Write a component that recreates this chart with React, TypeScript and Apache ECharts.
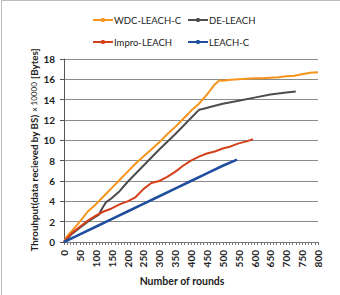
import React, { useEffect, useRef } from "react";
import * as echarts from "echarts";

const wdcRounds = [0, 10, 25, 50, 75, 100, 125, 150, 175, 200, 225, 250, 275, 300, 325, 350, 375, 400, 425, 450, 475, 490, 500, 525, 550, 575, 600, 625, 650, 675, 700, 725, 750, 775, 800];
const wdcValues = [0, 0.6, 1.1, 2.0, 3.0, 3.7, 4.5, 5.3, 6.1, 6.9, 7.7, 8.4, 9.1, 9.8, 10.6, 11.3, 12.1, 12.9, 13.6, 14.5, 15.5, 15.9, 15.85, 15.95, 16.0, 16.05, 16.1, 16.1, 16.15, 16.2, 16.3, 16.35, 16.5, 16.65, 16.7];

const deRounds = [0, 25, 50, 75, 100, 110, 120, 132, 150, 175, 200, 250, 300, 350, 400, 425, 440, 475, 500, 550, 600, 650, 700, 730];
const deValues = [0, 0.8, 1.4, 2.0, 2.5, 2.7, 3.3, 3.9, 4.3, 5.0, 5.9, 7.5, 9.1, 10.6, 12.2, 13.0, 13.1, 13.4, 13.6, 13.9, 14.2, 14.5, 14.7, 14.8];

const improRounds = [0, 25, 50, 75, 100, 125, 150, 175, 200, 225, 250, 275, 300, 325, 350, 375, 400, 425, 450, 475, 500, 525, 550, 575, 595];
const improValues = [0, 0.9, 1.5, 2.1, 2.6, 3.0, 3.3, 3.7, 4.0, 4.4, 5.2, 5.8, 6.0, 6.4, 6.9, 7.5, 8.0, 8.4, 8.7, 8.9, 9.2, 9.4, 9.7, 9.9, 10.1];

const leachRounds = [0, 50, 100, 150, 200, 250, 300, 350, 400, 450, 500, 545];
const leachValues = [0, 0.75, 1.5, 2.25, 3.0, 3.75, 4.5, 5.25, 6.0, 6.75, 7.5, 8.1];

const seriesNames = ["WDC-LEACH-C", "DE-LEACH", "Impro-LEACH", "LEACH-C"];
const seriesColors = ["#F7941D", "#4D4D4D", "#D4401A", "#1F4E9E"];

const FONT = "Lato, 'Liberation Sans', Arial, sans-serif";
const LEGEND_ICON = "path://M0,3.5 L20,3.5 L20,5.5 L0,5.5 Z M8.5,2.5 L11.5,2.5 L11.5,6.5 L8.5,6.5 Z M0,0 L0.01,0 L0.01,0.01 Z M0,9 L0.01,9 L0.01,9.01 Z";

function pairs(xs: number[], ys: number[]) {
  return xs.map((x, i) => [x, ys[i]]);
}

export default function App() {
  const ref = useRef<HTMLDivElement>(null);
  useEffect(() => {
    if (!ref.current) return;
    const chart = echarts.init(ref.current, undefined, { renderer: "svg" });
    const datasets = [
      pairs(wdcRounds, wdcValues),
      pairs(deRounds, deValues),
      pairs(improRounds, improValues),
      pairs(leachRounds, leachValues),
    ];
    const legendPos = [
      { left: 93, top: 15 },
      { left: 188, top: 15 },
      { left: 93, top: 37 },
      { left: 188, top: 37 },
    ];
    chart.setOption({
      animation: false,
      textStyle: { fontFamily: FONT },
      legend: seriesNames.map((n, i) => ({
        data: [{ name: n, icon: LEGEND_ICON }],
        left: legendPos[i].left,
        top: legendPos[i].top,
        padding: 0,
        itemWidth: 20,
        itemHeight: 9,
        itemGap: 2,
        textStyle: { fontSize: 9.5, color: "#222", fontFamily: FONT, padding: [0, 0, 0, -4] },
      })),
      grid: { left: 64, right: 22, top: 59, bottom: 53 },
      xAxis: {
        type: "value",
        min: 0,
        max: 800,
        interval: 50,
        axisLine: { lineStyle: { color: "#777", width: 1 } },
        axisTick: { show: true, length: 3, lineStyle: { color: "#777" } },
        minorTick: { show: true, splitNumber: 5, length: 3, lineStyle: { color: "#777" } },
        splitLine: { show: false },
        axisLabel: { rotate: 90, margin: 8, fontSize: 10, fontWeight: "bold", color: "#222", fontFamily: FONT },
      },
      yAxis: {
        type: "value",
        min: 0,
        max: 18,
        interval: 2,
        axisLine: { show: true, lineStyle: { color: "#555", width: 1 } },
        axisTick: { show: true, length: 4, lineStyle: { color: "#555" } },
        splitLine: { lineStyle: { color: "#8a8a8a", width: 1 } },
        axisLabel: { margin: 9, fontSize: 10, fontWeight: "bold", color: "#222", fontFamily: FONT },
      },
      graphic: [
        {
          type: "rect",
          shape: { x: 1.5, y: 0.5, width: 400, height: 400 },
          style: { fill: "none", stroke: "#bbb", lineWidth: 1 },
          silent: true,
        },
        {
          type: "text",
          x: 34,
          y: 150,
          rotation: Math.PI / 2,
          style: {
            text: "{a|Throuhput(data recieved by BS)} {b|x 10000} {a|[Bytes]}",
            align: "center",
            verticalAlign: "middle",
            rich: {
              a: { fontSize: 9.8, fontWeight: "bold", fill: "#222", fontFamily: FONT },
              b: { fontSize: 8, fill: "#222", fontFamily: FONT },
            },
          },
        },
        {
          type: "text",
          x: 182,
          y: 281,
          style: {
            text: "Number of rounds",
            align: "center",
            verticalAlign: "middle",
            fontSize: 10.5,
            fontWeight: "bold",
            fill: "#222",
            fontFamily: FONT,
          },
        },
      ],
      series: seriesNames.map((n, i) => ({
        name: n,
        type: "line",
        data: datasets[i],
        color: seriesColors[i],
        symbol: "rect",
        symbolSize: 3,
        showSymbol: false,
        lineStyle: { width: i === 3 ? 2.5 : 2, color: seriesColors[i] },
      })),
    });
    return () => chart.dispose();
  }, []);
  return <div ref={ref} style={{ position: "absolute", left: 0, top: 0, width: 340, height: 295 }} />;
}
